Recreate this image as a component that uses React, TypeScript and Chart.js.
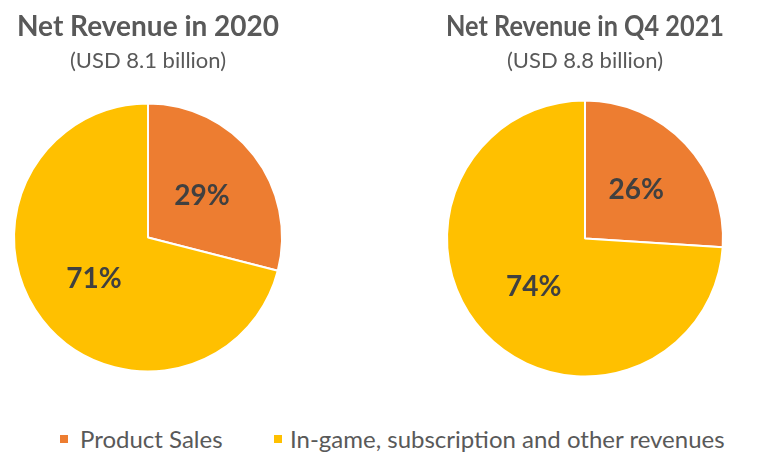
import React, { useEffect, useRef } from "react";
import { Chart, registerables } from "chart.js";

Chart.register(...registerables);

const categories = ["Product Sales", "In-game, subscription and other revenues"];
const titles = ["Net Revenue in 2020", "Net Revenue in Q4 2021"];
const subtitles = ["(USD 8.1 billion)", "(USD 8.8 billion)"];
const values2020 = [29, 71];
const valuesQ42021 = [26, 74];
const sliceColors = ["#ED7D31", "#FFC000"];

const FONT = "Lato, 'Open Sans', sans-serif";
const TEXT = "#595959";

const pctLabels = {
  id: "pctLabels",
  afterDatasetsDraw(chart: any) {
    const ctx = chart.ctx;
    const ds = chart.data.datasets[0];
    const meta = chart.getDatasetMeta(0);
    ctx.save();
    ctx.font = `bold 28px ${FONT}`;
    ctx.fillStyle = "#404040";
    ctx.textAlign = "center";
    ctx.textBaseline = "middle";
    meta.data.forEach((arc: any, i: number) => {
      const p = arc.getProps(["x", "y", "startAngle", "endAngle", "outerRadius"], true);
      const mid = (p.startAngle + p.endAngle) / 2;
      const r = p.outerRadius * 0.51;
      ctx.fillText(`${ds.data[i]}%`, p.x + Math.cos(mid) * r, p.y + Math.sin(mid) * r);
    });
    ctx.restore();
  },
};

function makeConfig(values: number[], title: string, subtitle: string, side: number, bottom: number, subPad: number): any {
  return {
    type: "pie",
    data: {
      labels: categories,
      datasets: [
        {
          data: values,
          backgroundColor: sliceColors,
          borderColor: "#ffffff",
          borderWidth: 2,
        },
      ],
    },
    options: {
      responsive: false,
      animation: false,
      layout: { padding: { left: side, right: side, top: 0, bottom } },
      plugins: {
        legend: { display: false },
        tooltip: { enabled: false },
        title: {
          display: true,
          text: title,
          color: TEXT,
          font: { family: FONT, size: 28, weight: "bold" },
          padding: { top: 10, bottom: 4 },
        },
        subtitle: {
          display: true,
          text: subtitle,
          color: TEXT,
          font: { family: FONT, size: 22, weight: "normal" },
          padding: { top: 0, bottom: subPad },
        },
      },
    },
    plugins: [pctLabels],
  };
}

function PieCanvas(props: { values: number[]; title: string; subtitle: string; left: number; width: number; height: number; side: number; bottom: number; subPad: number }) {
  const ref = useRef<HTMLCanvasElement | null>(null);
  useEffect(() => {
    if (!ref.current) return;
    const chart = new Chart(ref.current, makeConfig(props.values, props.title, props.subtitle, props.side, props.bottom, props.subPad));
    return () => chart.destroy();
  }, []);
  return (
    <canvas
      ref={ref}
      width={props.width}
      height={props.height}
      style={{ position: "absolute", left: props.left, top: 0, width: props.width, height: props.height }}
    />
  );
}

export default function App() {
  return (
    <div style={{ position: "fixed", left: 0, top: 0, width: 768, height: 460, background: "#ffffff", overflow: "hidden" }}>
      <PieCanvas values={values2020} title={titles[0]} subtitle={subtitles[0]} left={0} width={296} height={380} side={13} bottom={6} subPad={27} />
      <PieCanvas values={valuesQ42021} title={titles[1]} subtitle={subtitles[1]} left={435} width={300} height={386} side={11} bottom={8} subPad={25} />
      <div style={{ position: "absolute", left: 60, top: 424, display: "flex", alignItems: "center", fontFamily: FONT, fontSize: 24, color: TEXT, whiteSpace: "nowrap" }}>
        <span style={{ width: 8, height: 8, background: sliceColors[0], display: "inline-block", marginRight: 12 }} />
        <span>{categories[0]}</span>
      </div>
      <div style={{ position: "absolute", left: 274, top: 424, display: "flex", alignItems: "center", fontFamily: FONT, fontSize: 24, color: TEXT, whiteSpace: "nowrap" }}>
        <span style={{ width: 8, height: 8, background: sliceColors[1], display: "inline-block", marginRight: 8 }} />
        <span>{categories[1]}</span>
      </div>
    </div>
  );
}
